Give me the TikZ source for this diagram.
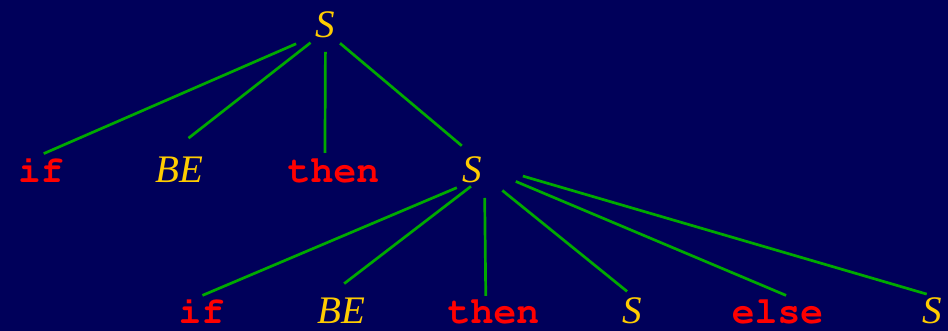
\documentclass[tikz,border=0pt]{standalone}
\usepackage{fontspec}
\setmainfont{Liberation Serif}
\setmonofont{Liberation Mono}
\definecolor{slidebg}{RGB}{0,0,90}
\definecolor{kwred}{RGB}{255,0,0}
\definecolor{ntyellow}{RGB}{255,204,0}
\definecolor{treegreen}{RGB}{0,170,0}
\newcommand{\kwfont}{\fontencoding{T1}\fontfamily{pcr}\fontseries{b}\fontshape{n}\fontsize{38}{38}\selectfont}

\begin{document}
\begin{tikzpicture}[
  x=1pt, y=1pt,
  sym/.style={anchor=base, inner sep=2pt, text height=26pt, text depth=12pt},
  lowrow/.style={text depth=0pt},
  nonterm/.style={sym, text=ntyellow, font=\fontsize{39}{39}\selectfont\itshape},
  term/.style={sym, text=kwred, font=\kwfont},
  branch/.style={draw=treegreen, line width=2.7pt}
]
\useasboundingbox (0,0) rectangle (948,331);
\fill[slidebg] (0,0) rectangle (948,331);

\node [nonterm] (s0) at (325.5,293) {S};

\node [term]    (if1)   at (41,148)    {if};
\node [nonterm] (be1)   at (179.5,148) {BE};
\node [term]    (then1) at (333.5,148) {then};
\node [nonterm] (s1)    at (472.5,148) {S};

\node [term, lowrow]    (if2)   at (201.5,7) {if};
\node [nonterm, lowrow] (be2)   at (341.5,7) {BE};
\node [term, lowrow]    (then2) at (493.5,7) {then};
\node [nonterm, lowrow] (s2)    at (632.5,7) {S};
\node [term, lowrow]    (else2) at (777.5,7) {else};
\node [nonterm, lowrow] (s3)    at (932.5,7) {S};

\draw [branch, shorten <=32pt, shorten >=3pt]  (s0.center) -- (if1.north);
\draw [branch, shorten <=19pt, shorten >=27pt] (s0.center) -- (be1.120);
\draw [branch, shorten <=21pt, shorten >=2pt]  (s0.center) -- (then1.112);
\draw [branch, shorten <=19pt, shorten >=14pt] (s0.center) -- (s1.north);

\draw [branch, shorten <=30pt, shorten >=1pt]  (s1.east) -- (if2.north);
\draw [branch, shorten <=17pt, shorten >=20pt] (s1.east) -- (be2.131);
\draw [branch, shorten <=22pt, shorten >=0pt]  (s1.east) -- (then2.117);
\draw [branch, shorten <=23pt, shorten >=7pt]  (s1.east) -- (s2.north);
\draw [branch, shorten <=34pt, shorten >=1pt]  (s1.33) -- (else2.58);
\draw [branch, shorten <=40pt, shorten >=6pt]  (s1.43) -- (s3.north);
\end{tikzpicture}
\end{document}
